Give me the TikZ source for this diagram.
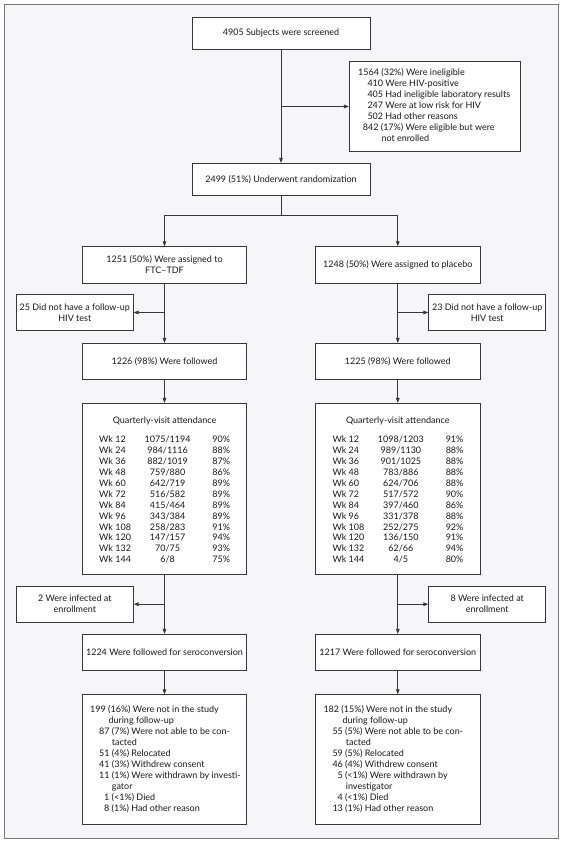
\documentclass[tikz,border=0pt]{standalone}
\usepackage{fontspec}
\setmainfont{Lato}
\usetikzlibrary{arrows.meta}
\definecolor{bg}{RGB}{246,246,248}
\definecolor{ln}{RGB}{55,55,55}
\definecolor{fr}{RGB}{120,120,120}
\definecolor{tx}{RGB}{25,25,25}
\begin{document}
\begin{tikzpicture}[x=1pt,y=-1pt,
  box/.style={draw=ln, line width=0.8pt, fill=white, inner sep=0pt, align=center,
    font=\fontsize{9}{11}\selectfont, text=tx},
  conn/.style={draw=ln, line width=0.8pt},
  arr/.style={conn, -{Triangle[length=5pt,width=3.6pt]}},
  txt/.style={inner sep=0pt, font=\fontsize{9}{11}\selectfont, text=tx,
    text height=6.5pt, text depth=2pt},
]
\useasboundingbox (0,0) rectangle (562,844);
\fill[white] (0,0) rectangle (562,844);
\filldraw[fill=bg, draw=fr, line width=0.8pt] (4,4) rectangle (558,838.7);

% ---------- boxes ----------
\node[box, minimum width=178pt, minimum height=32pt] (top) at (281,33.3) {4905 Subjects were screened};
\node[box, minimum width=170.7pt, minimum height=90.4pt] (inel) at (434.7,106.5) {};
\node[box, minimum width=178pt, minimum height=32pt] (rand) at (281,179.3) {2499 (51\%) Underwent randomization};

\node[box, minimum width=164.4pt, minimum height=36.6pt] (ftc) at (164.5,265) {1251 (50\%) Were assigned to\\FTC–TDF};
\node[box, minimum width=164.4pt, minimum height=36.6pt] (plac) at (397.8,265) {1248 (50\%) Were assigned to placebo};

\node[box, minimum width=117pt, minimum height=36.4pt] (sL) at (74.8,312.5) {25 Did not have a follow-up\\HIV test};
\node[box, minimum width=117pt, minimum height=36.4pt] (sR) at (487.2,312.5) {23 Did not have a follow-up\\HIV test};

\node[box, minimum width=164.4pt, minimum height=36pt] (folL) at (164.5,361.3) {1226 (98\%) Were followed};
\node[box, minimum width=164.4pt, minimum height=36pt] (folR) at (397.8,361.3) {1225 (98\%) Were followed};

\node[box, minimum width=164.4pt, minimum height=170.7pt] (attL) at (164.5,488.7) {};
\node[box, minimum width=164.4pt, minimum height=170.7pt] (attR) at (397.8,488.7) {};

\node[box, minimum width=117pt, minimum height=36.3pt] (infL) at (74.8,604.2) {2 Were infected at\\enrollment};
\node[box, minimum width=117pt, minimum height=36.3pt] (infR) at (487.2,604.2) {8 Were infected at\\enrollment};

\node[box, minimum width=164.4pt, minimum height=36pt] (serL) at (164.5,652.3) {1224 Were followed for seroconversion};
\node[box, minimum width=164.4pt, minimum height=36pt] (serR) at (397.8,652.3) {1217 Were followed for seroconversion};

\node[box, minimum width=164.4pt, minimum height=129.3pt] (botL) at (164.5,759.4) {};
\node[box, minimum width=164.4pt, minimum height=129.3pt] (botR) at (397.8,759.4) {};

% ---------- ineligible text ----------
\node[txt, anchor=west] (i1) at (358,73.3) {1564 (32\%) Were ineligible};
\node[txt, anchor=west] (i2) at (367.3,84.3) {410 Were HIV-positive};
\node[txt, anchor=west] (i3) at (367.3,95.3) {405 Had ineligible laboratory results};
\node[txt, anchor=west] (i4) at (367.3,106.3) {247 Were at low risk for HIV};
\node[txt, anchor=west] (i5) at (367.3,117.3) {502 Had other reasons};
\node[txt, anchor=west] (i6) at (362.7,128.3) {842 (17\%) Were eligible but were};
\node[txt, anchor=west] (i7) at (381.3,139.3) {not enrolled};

% ---------- attendance tables ----------
\node[txt] (attLt) at (164.5,421.7) {Quarterly-visit attendance};
\node[txt] (attRt) at (397.8,421.7) {Quarterly-visit attendance};
\foreach \w/\f/\p [count=\k from 0] in {12/{1075/1194}/90, 24/{984/1116}/88, 36/{882/1019}/87,
  48/{759/880}/86, 60/{642/719}/89, 72/{516/582}/89, 84/{415/464}/89, 96/{343/384}/89,
  108/{258/283}/91, 120/{147/157}/94, 132/{70/75}/93, 144/{6/8}/75}{
  \node[txt, anchor=west] (aLw\k) at (99,440+10.97*\k) {Wk \w};
  \node[txt] (aLf\k) at (167.6,440+10.97*\k) {\f};
  \node[txt, anchor=east] (aLp\k) at (230.3,440+10.97*\k) {\p\%};
}
\foreach \w/\f/\p [count=\k from 0] in {12/{1098/1203}/91, 24/{989/1130}/88, 36/{901/1025}/88,
  48/{783/886}/88, 60/{624/706}/88, 72/{517/572}/90, 84/{397/460}/86, 96/{331/378}/88,
  108/{252/275}/92, 120/{136/150}/91, 132/{62/66}/94, 144/{4/5}/80}{
  \node[txt, anchor=west] (aRw\k) at (332.3,440+10.97*\k) {Wk \w};
  \node[txt] (aRf\k) at (400.9,440+10.97*\k) {\f};
  \node[txt, anchor=east] (aRp\k) at (463.6,440+10.97*\k) {\p\%};
}

% ---------- bottom box texts ----------
\node[txt, anchor=west] (bL1) at (90,710) {199 (16\%) Were not in the study};
\node[txt, anchor=west] (bL2) at (108.3,721) {during follow-up};
\node[txt, anchor=west] (bL3) at (99,732) {87 (7\%) Were not able to be con-};
\node[txt, anchor=west] (bL4) at (111.7,743) {tacted};
\node[txt, anchor=west] (bL5) at (99,754) {51 (4\%) Relocated};
\node[txt, anchor=west] (bL6) at (99,765) {41 (3\%) Withdrew consent};
\node[txt, anchor=west] (bL7) at (99,776) {11 (1\%) Were withdrawn by investi-};
\node[txt, anchor=west] (bL8) at (111.7,787) {gator};
\node[txt, anchor=west] (bL9) at (104,798) {1 (<1\%) Died};
\node[txt, anchor=west] (bL10) at (104,809) {8 (1\%) Had other reason};

\node[txt, anchor=west] (bR1) at (323.3,710) {182 (15\%) Were not in the study};
\node[txt, anchor=west] (bR2) at (342.3,721) {during follow-up};
\node[txt, anchor=west] (bR3) at (332.3,732) {55 (5\%) Were not able to be con-};
\node[txt, anchor=west] (bR4) at (345.7,743) {tacted};
\node[txt, anchor=west] (bR5) at (332.3,754) {59 (5\%) Relocated};
\node[txt, anchor=west] (bR6) at (332.3,765) {46 (4\%) Withdrew consent};
\node[txt, anchor=west] (bR7) at (337.3,776) {5 (<1\%) Were withdrawn by};
\node[txt, anchor=west] (bR8) at (345.7,787) {investigator};
\node[txt, anchor=west] (bR9) at (337.3,798) {4 (<1\%) Died};
\node[txt, anchor=west] (bR10) at (332.3,809) {13 (1\%) Had other reason};

% ---------- connectors ----------
\draw[arr] (top) -- (rand);
\draw[arr] (top.south |- inel.west) -- (inel.west);

\coordinate (brC) at (281,215);
\draw[conn] (rand.south) -- (brC);
\draw[conn] (ftc.north |- brC) -- (plac.north |- brC);
\draw[arr] (ftc.north |- brC) -- (ftc.north);
\draw[arr] (plac.north |- brC) -- (plac.north);

\draw[arr] (ftc) -- (folL);
\draw[arr] (ftc.south |- sL.east) -- (sL.east);
\draw[arr] (plac) -- (folR);
\draw[arr] (plac.south |- sR.west) -- (sR.west);

\draw[arr] (folL) -- (attL);
\draw[arr] (folR) -- (attR);

\draw[arr] (attL) -- (serL);
\draw[arr] (attL.south |- infL.east) -- (infL.east);
\draw[arr] (attR) -- (serR);
\draw[arr] (attR.south |- infR.west) -- (infR.west);

\draw[arr] (serL) -- (botL);
\draw[arr] (serR) -- (botR);
\end{tikzpicture}
\end{document}
